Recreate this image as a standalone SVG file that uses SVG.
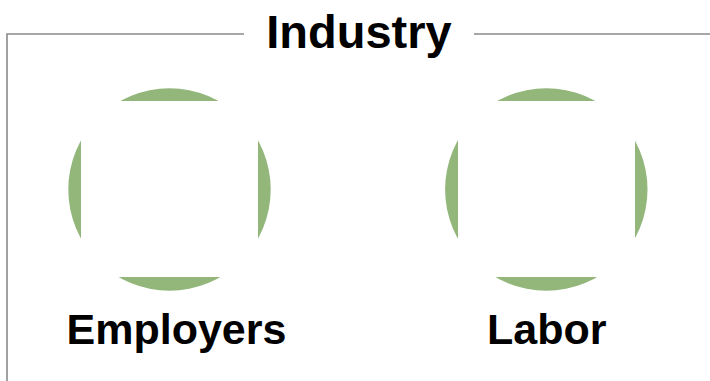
<svg xmlns="http://www.w3.org/2000/svg" width="710" height="381" viewBox="0 0 710 381">
<style>
.frame{fill:none;stroke:#8a8a8a;stroke-width:1.6}
.disc{fill:#93b67a}
.mask{fill:#ffffff}
.lbl{font-family:"Liberation Sans",Arial,sans-serif;font-weight:bold;fill:#000;text-anchor:middle}
</style>
<rect width="710" height="381" fill="#ffffff"/>
<g id="frame">
<path class="frame" d="M244,34 H7 V381 M474,34 H711"/>
<text class="lbl" x="359" y="48" font-size="47">Industry</text>
</g>
<g id="connectors"></g>
<g id="employers">
<circle class="disc" cx="169.5" cy="189.5" r="101.2"/>
<rect class="mask" x="81" y="101" width="177" height="176"/>
<text class="lbl" x="176.5" y="343.5" font-size="43">Employers</text>
</g>
<g id="labor">
<circle class="disc" cx="546.3" cy="189.5" r="101.2"/>
<rect class="mask" x="458" y="101" width="177" height="176"/>
<text class="lbl" x="546.8" y="343.5" font-size="43">Labor</text>
</g>
</svg>
